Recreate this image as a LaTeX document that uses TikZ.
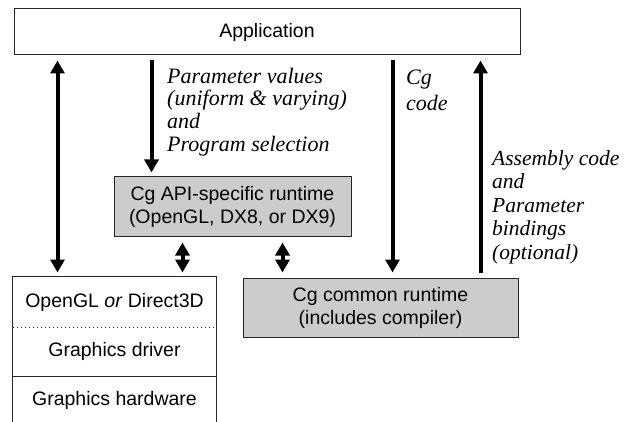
\documentclass[tikz,border=0pt]{standalone}
\usepackage{fontspec}
\setmainfont{Liberation Serif}
\setsansfont{Liberation Sans}
\usetikzlibrary{arrows.meta}

\tikzset{
  layer/.style={draw=black!85, line width=1pt, align=center, inner sep=0pt,
    font=\sffamily\fontsize{19.5}{23}\selectfont},
  runtime/.style={layer, fill=black!20, minimum height=59pt},
  stacklayer/.style={layer, draw=none, minimum width=203pt},
  note/.style={font=\itshape\fontsize{22}{22.7}\selectfont, align=left, inner sep=0pt, anchor=west},
  flow/.style={line width=4pt, >={Triangle[width=14pt,length=13pt]}},
}

\begin{document}
\begin{tikzpicture}[x=1pt, y=-1pt]
  \useasboundingbox (0,0) rectangle (629,422);
  % boxes
  \node[layer, minimum width=506pt, minimum height=46pt] (app) at (267,32) {Application};
  \node[runtime, minimum width=237pt] (api) at (232.5,206.5) {Cg API-specific runtime\\(OpenGL, DX8, or DX9)};
  \node[runtime, minimum width=275pt] (common) at (380.5,307.5) {Cg common runtime\\(includes compiler)};
  % graphics stack
  \node[stacklayer, minimum height=50pt] (gl) at (114.5,302) {OpenGL \textit{or} Direct3D};
  \node[stacklayer, minimum height=49pt] (drv) at (114.5,351.5) {Graphics driver};
  \node[stacklayer, minimum height=48pt] (hw) at (114.5,400) {Graphics hardware};
  \draw[line width=1pt, black!85] (hw.south west) |- (gl.north east) -- (hw.south east);
  \draw[line width=1pt, black!85, dash pattern=on 1.5pt off 2.5pt] (gl.south west) -- (gl.south east);
  \draw[line width=1pt, black!85] (drv.south west) -- (drv.south east);
  % arrows
  \draw[flow, <->, shorten <=5pt, shorten >=4pt] ([xshift=45pt]gl.north west |- app.south) -- ([xshift=45pt]gl.north west);
  \draw[flow, ->, shorten <=5pt, shorten >=4pt] ([xshift=38pt]api.north west |- app.south) -- ([xshift=38pt]api.north west);
  \draw[flow, <->, shorten <=6pt, shorten >=4pt] ([xshift=69pt]api.south west) -- ([xshift=69pt]api.south west |- gl.north);
  \draw[flow, <->, shorten <=6pt, shorten >=5pt] ([xshift=169pt]api.south west) -- ([xshift=169pt]api.south west |- common.north);
  \draw[flow, ->, shorten <=5pt, shorten >=5pt] ([xshift=150pt]common.north west |- app.south) -- ([xshift=150pt]common.north west);
  \draw[flow, ->, shorten <=5pt, shorten >=5pt] ([xshift=238pt]common.north west) -- ([xshift=238pt]common.north west |- app.south);
  % labels
  \node[note] (params) at (167,112) {Parameter values\\(uniform \& varying)\\and\\Program selection};
  \node[note, font=\itshape\fontsize{22}{26}\selectfont] (cgcode) at (406,90) {Cg\\code};
  \node[note, font=\itshape\fontsize{21.5}{23.5}\selectfont] (asm) at (492,207) {Assembly code\\and\\Parameter\\bindings\\(optional)};
\end{tikzpicture}
\end{document}
